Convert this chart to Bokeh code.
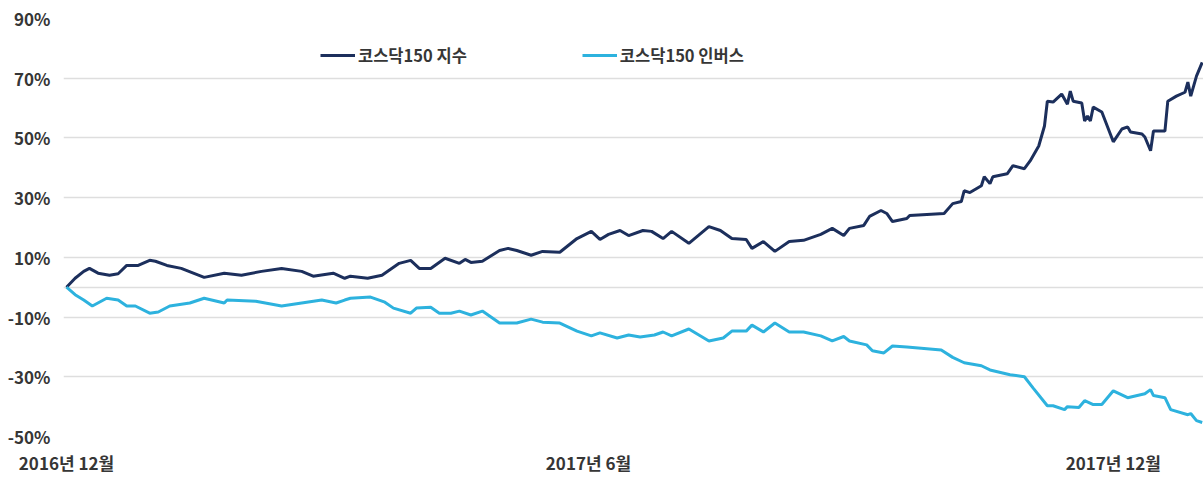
from bokeh.plotting import figure
from bokeh.models import Legend, LegendItem, FixedTicker, Range1d
from bokeh.embed import file_html
from bokeh.resources import INLINE

# x values: calendar days since 2016-12-01
index_days = [0, 3, 6, 8, 11, 15, 18, 21, 25, 29, 31, 35, 40, 48, 55, 61, 68, 75, 82, 86,
              93, 97, 99, 105, 110, 116, 120, 123, 127, 132, 137, 139, 141, 145, 151, 154, 157, 162, 166, 172,
              178, 183, 186, 189, 193, 196, 201, 204, 208, 211, 217, 224, 228, 232, 237, 239, 243, 247, 252, 257,
              263, 267, 271, 273, 278, 280, 284, 286, 288, 293, 294, 306, 309, 312, 313, 315, 319, 320, 322, 323,
              328, 330, 334, 336, 339, 341, 342, 344, 347, 349, 350, 351, 354, 355, 356, 357, 358, 361, 365, 368,
              370, 371, 375, 376, 378, 379, 383, 384, 387, 390, 391, 392, 394, 396]
index_values = [0, 3, 5.3, 6.3, 4.7, 4, 4.5, 7.3, 7.3, 9, 8.7, 7.3, 6.3, 3.3, 4.7, 4, 5.3, 6.3, 5.3, 3.7,
                4.7, 3, 3.7, 3, 4, 8, 9, 6.3, 6.3, 9.7, 8, 9.3, 8.3, 8.7, 12.3, 13, 12.3, 10.7, 12, 11.7,
                16.3, 18.7, 16, 17.7, 19, 17.3, 19, 18.7, 16.3, 18.7, 14.7, 20.3, 19, 16.3, 16, 13, 15.3, 12, 15.3, 15.7,
                17.7, 19.7, 17.3, 19.7, 20.7, 23.7, 25.7, 24.7, 22, 23, 24, 24.7, 28, 28.7, 32.3, 31.7, 34, 37, 34.7, 37,
                38, 40.7, 39.7, 42.3, 47.3, 54, 62.3, 62, 64.7, 61.3, 65.7, 62.3, 61.7, 55.7, 57.3, 55.7, 60.3, 58.7, 48.7, 53,
                53.7, 52, 51.3, 50.3, 45.7, 52.3, 52.3, 62.3, 64, 65.3, 68.7, 64, 70.7, 75.3]

inverse_days = [0, 3, 6, 9, 14, 18, 21, 24, 29, 32, 36, 43, 48, 55, 56, 66, 75, 82, 89, 94,
                97, 99, 106, 111, 114, 120, 122, 127, 130, 134, 137, 141, 145, 151, 157, 162, 166, 172, 178, 183,
                186, 192, 196, 200, 205, 208, 211, 217, 224, 229, 232, 237, 239, 243, 247, 252, 257, 263, 267, 271,
                273, 279, 281, 285, 288, 293, 305, 309, 313, 319, 322, 329, 334, 337, 342, 344, 348, 349, 353, 355,
                358, 361, 365, 370, 376, 378, 379, 383, 385, 391, 392, 394, 396]
inverse_values = [0, -2.5, -4.3, -6.3, -3.7, -4.3, -6.3, -6.3, -8.7, -8.3, -6.3, -5.3, -3.7, -5.3, -4.3, -4.7, -6.3, -5.3, -4.3, -5.3,
                  -4.3, -3.7, -3.3, -5, -7, -8.7, -7, -6.7, -8.7, -8.7, -8, -9.3, -8, -12, -12, -10.7, -11.7, -12, -14.7, -16.3,
                  -15.3, -17, -16, -16.7, -16, -15, -16.3, -14, -18, -17, -14.7, -14.7, -12.7, -15, -12, -15, -15, -16.3, -18, -16.5,
                  -18, -19.3, -21.3, -22, -19.7, -20, -21, -23.5, -25.3, -26.3, -27.7, -29.3, -30, -33.7, -39.7, -39.7, -41, -40, -40.3, -38,
                  -39.3, -39.3, -34.7, -37, -35.7, -34.3, -36.3, -37, -41, -42.7, -42.3, -44.7, -45.3]

series_names = ["코스닥150 지수", "코스닥150 인버스"]
series_colors = ["#1c2f5c", "#2db2de"]
y_ticks = [-50, -30, -10, 0, 10, 30, 50, 70, 90]
x_tick_days = [0, 182, 365]
x_tick_labels = ["2016년 12월", "2017년 6월", "2017년 12월"]

FONT = "Noto Sans CJK KR"
TEXT_COLOR = "#363636"

p = figure(width=1203, height=477, output_backend="svg", toolbar_location=None,
           x_range=Range1d(-1.05, 396.45), y_range=Range1d(-50, 90),
           min_border_left=63, min_border_right=0, min_border_top=18, min_border_bottom=37)
p.outline_line_color = None
p.background_fill_color = "white"
p.border_fill_color = "white"

r1 = p.line(index_days, index_values, line_color=series_colors[0], line_width=3)
r2 = p.line(inverse_days, inverse_values, line_color=series_colors[1], line_width=3)

p.yaxis.ticker = FixedTicker(ticks=y_ticks)
p.yaxis.major_label_overrides = {t: ("" if t == 0 else f"{t}%") for t in y_ticks}
p.xaxis.ticker = FixedTicker(ticks=x_tick_days)
p.xaxis.major_label_overrides = dict(zip(x_tick_days, x_tick_labels))

for ax in (p.xaxis[0], p.yaxis[0]):
    ax.axis_line_color = None
    ax.major_tick_line_color = None
    ax.minor_tick_line_color = None
    ax.major_tick_out = 0
    ax.major_tick_in = 0
    ax.minor_tick_out = 0
    ax.major_label_text_font = FONT
    ax.major_label_text_font_size = "17px"
    ax.major_label_text_font_style = "bold"
    ax.major_label_text_color = TEXT_COLOR
p.yaxis.major_label_standoff = 13
p.xaxis.major_label_standoff = 13

p.xgrid.visible = False
p.ygrid.grid_line_color = "#dedede"
p.ygrid.grid_line_width = 1.5

legend = Legend(items=[LegendItem(label=series_names[0], renderers=[r1]),
                       LegendItem(label=series_names[1], renderers=[r2])],
                orientation="horizontal", location=(257, 369),
                glyph_width=35, glyph_height=20, label_height=20, label_standoff=3,
                spacing=115, padding=0, margin=0,
                border_line_color=None, background_fill_alpha=0,
                label_text_font=FONT, label_text_font_size="16.5px",
                label_text_font_style="bold", label_text_color=TEXT_COLOR)
p.add_layout(legend)

open("out.html", "w").write(file_html(p, INLINE))
